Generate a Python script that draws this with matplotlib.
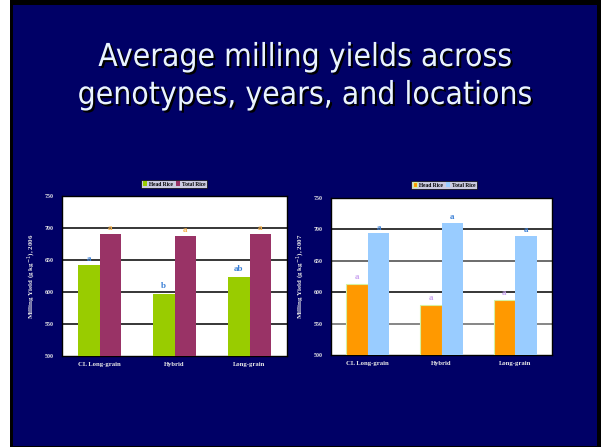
import matplotlib.pyplot as plt
import matplotlib.patches as mpatches
import matplotlib.patheffects as pe
import numpy as np

# data
genotypes = ["CL Long-grain", "Hybrid", "Long-grain"]
head_2006 = [642, 597, 623]
total_2006 = [691, 688, 691]
head_2006_letters = ["a", "b", "ab"]
total_2006_letters = ["a", "a", "a"]
head_2006_label_y = [652, 609, 636]
total_2006_label_y = [700, 697, 700]

head_2007 = [613, 579, 588]
total_2007 = [694, 710, 689]
head_2007_letters = ["a", "a", "a"]
total_2007_letters = ["a", "a", "a"]
head_2007_label_y = [624, 590, 599]
total_2007_label_y = [703, 720, 699]

W, H = 605, 447
navy = "#000066"

fig = plt.figure(figsize=(W / 100, H / 100), dpi=100)
fig.patch.set_facecolor("white")

# slide frame
fig.add_artist(mpatches.Rectangle((10 / W, 0), 591 / W, 1, transform=fig.transFigure,
                                  facecolor="black", edgecolor="none", zorder=0))
fig.add_artist(mpatches.Rectangle((13 / W, 1 / H), 584 / W, 441 / H, transform=fig.transFigure,
                                  facecolor=navy, edgecolor="none", zorder=0))

# title
title_fx = [pe.withSimplePatchShadow(offset=(1.5, -1.5), shadow_rgbFace="black", alpha=1.0)]
for txt, yy in [("Average milling yields across", 66), ("genotypes, years, and locations", 104)]:
    fig.text(305 / W, 1 - yy / H, txt, ha="center", va="baseline", fontsize=22.8,
             color="#eaf4ff", family="DejaVu Sans", fontstretch="condensed",
             path_effects=title_fx)


def add_chart(rect, head, total, head_lab, total_lab, head_y, total_y,
              head_color, total_color, head_txt, total_txt, ylabel, grid_colors,
              legend_center, head_edge="none"):
    l, t, r, b = rect
    ax = fig.add_axes([l / W, 1 - b / H, (r - l) / W, (b - t) / H])
    ax.set_facecolor("white")
    x = np.arange(len(genotypes))
    w = 0.29
    b1 = ax.bar(x - w / 2, head, w, color=head_color, edgecolor=head_edge,
                linewidth=0.8, label="Head Rice", zorder=3)
    b2 = ax.bar(x + w / 2, total, w, color=total_color, label="Total Rice", zorder=3)
    ax.set_ylim(500, 750)
    ax.set_xlim(-0.5, 2.5)
    ax.set_yticks([500, 550, 600, 650, 700, 750])
    for yv, gc in zip([550, 600, 650, 700], grid_colors):
        ax.axhline(yv, color=gc, linewidth=1.1, zorder=1)
    ax.set_xticks(x)
    ax.set_xticklabels(genotypes)
    for lab in ax.get_xticklabels() + ax.get_yticklabels():
        lab.set_family("Liberation Serif")
        lab.set_fontweight("bold")
        lab.set_color("#e8e8e8")
    ax.tick_params(axis="x", length=0, labelsize=4.8, pad=4)
    ax.tick_params(axis="y", length=0, labelsize=4.3, pad=6)
    for s in ax.spines.values():
        s.set_color("black")
        s.set_linewidth(1.0)
    ax.set_ylabel(ylabel, family="Liberation Serif", fontweight="bold", fontsize=5,
                  color="#e8e8e8", labelpad=5)
    for i in range(len(genotypes)):
        ax.text(x[i] - w / 2, head_y[i], head_lab[i], ha="center", va="center",
                fontsize=6.5, fontweight="bold", family="Liberation Serif", color=head_txt)
        ax.text(x[i] + w / 2, total_y[i], total_lab[i], ha="center", va="center",
                fontsize=6.5, fontweight="bold", family="Liberation Serif", color=total_txt)
    leg = fig.legend(handles=[b1, b2], loc="center", ncol=2,
                     bbox_to_anchor=(legend_center[0] / W, 1 - legend_center[1] / H),
                     prop={"family": "Liberation Serif", "weight": "bold", "size": 4},
                     frameon=True, fancybox=False, handlelength=0.8, handleheight=0.8,
                     handletextpad=0.3, columnspacing=0.6, borderpad=0.3,
                     borderaxespad=0)
    leg.get_frame().set_edgecolor("black")
    leg.get_frame().set_linewidth(0.6)
    return ax


add_chart((62, 196, 287, 356), head_2006, total_2006, head_2006_letters, total_2006_letters,
          head_2006_label_y, total_2006_label_y, "#99cc00", "#993366", "#3a7fd5", "#f5b04a",
          "Milling Yield (g kg$^{-1}$), 2006", ["black"] * 4, (174, 184))

add_chart((331, 198, 552, 355), head_2007, total_2007, head_2007_letters, total_2007_letters,
          head_2007_label_y, total_2007_label_y, "#ff9900", "#99ccff", "#c9a2f0", "#3a7fd5",
          "Milling Yield (g kg$^{-1}$), 2007", ["#666666", "black", "#444444", "black"],
          (444, 185), head_edge="#d6f0a0")

fig.savefig("out.png", dpi=100, facecolor=fig.get_facecolor())
